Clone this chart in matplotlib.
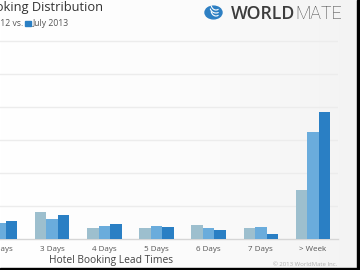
import matplotlib
matplotlib.use("Agg")
import matplotlib.pyplot as plt
import numpy as np
from matplotlib.patches import Rectangle, Circle, Arc
from matplotlib.colors import LinearSegmentedColormap

# ---- data ----
categories = ["2 Days", "3 Days", "4 Days", "5 Days", "6 Days", "7 Days", "> Week"]
series_names = ["July 2011", "July 2012", "July 2013"]
s2011 = [6.0, 8.4, 3.3, 3.3, 4.2, 3.3, 14.9]
s2012 = [5.0, 6.1, 4.1, 4.1, 3.3, 3.7, 32.6]
s2013 = [5.5, 7.3, 4.7, 3.8, 2.7, 1.6, 38.5]
colors = ["#9dbfce", "#6aacdc", "#2a7fc4"]
yticks = [10, 20, 30, 40, 50, 60]

W, H = 360, 270
fig = plt.figure(figsize=(3.6, 2.7), dpi=100)
fig.patch.set_facecolor("white")

def fx(px):
    return px / W

def fy(py):
    return 1 - py / H

# background gradient
bg = fig.add_axes([0, 0, 1, 1], zorder=-10)
grad = np.linspace(0, 1, 256)[None, :]
cm = LinearSegmentedColormap.from_list("bg", ["#ffffff", "#fcfcfc", "#f3f3f3"])
bg.imshow(grad, aspect="auto", cmap=cm, extent=[0, 1, 0, 1])
bg.axis("off")

# main axes
ax_left, ax_right = 0, 338
ax_top, ax_base = 35, 239.3
ax = fig.add_axes([fx(ax_left), fy(ax_base), fx(ax_right - ax_left), (ax_base - ax_top) / H])
ax.set_facecolor("none")

x = np.arange(len(categories))
bw = 0.22
for i, (vals, c) in enumerate(zip([s2011, s2012, s2013], colors)):
    ax.bar(x + (i - 1) * bw, vals, width=bw, color=c, zorder=3, linewidth=0)

ax.set_xlim((ax_left + 7.3) / 53.3, (ax_right + 7.3) / 53.3)
ax.set_ylim(0, (ax_base - ax_top) / 3.3)
ax.set_yticks(yticks)
ax.yaxis.grid(True, color="#ececec", linewidth=1.0, zorder=0)
ax.tick_params(axis="y", length=0, labelleft=False)
ax.set_xticks(x)
ax.set_xticklabels(categories, fontsize=5.8, color="#555555", family="Open Sans")
ax.tick_params(axis="x", length=0, pad=5)
for s in ["top", "right", "left"]:
    ax.spines[s].set_visible(False)
ax.spines["bottom"].set_color("#d6d6d6")
ax.spines["bottom"].set_linewidth(1.0)

# x-axis label
fig.text(fx(111), fy(261), "Hotel Booking Lead Times", ha="center", va="center",
         fontsize=7.4, color="#444444", family="Open Sans")

# title & subtitle
fig.text(fx(103), fy(11.5), "Hotel Booking Distribution", ha="right", va="baseline",
         fontsize=9.3, color="#333333", family="Open Sans")
fig.text(fx(24.5), fy(25.5), "July 2012 vs.", ha="right", va="baseline",
         fontsize=6.2, color="#555555", family="Open Sans")
fig.add_artist(Rectangle((fx(25), fy(26)), fx(5.5), 5.5 / H, color=colors[2],
                         transform=fig.transFigure))
fig.text(fx(32.5), fy(25.5), series_names[2], ha="left", va="baseline",
         fontsize=6.2, color="#555555", family="Open Sans")

# logo
fig.add_artist(Circle((fx(213.5), fy(12.5)), 8.5 / W, color="#2d7fc3",
                      transform=fig.transFigure))
for k, (dy, wd) in enumerate([(-2.5, 10), (0.5, 12), (3.5, 10)]):
    fig.add_artist(Arc((fx(216), fy(12.5 + dy - 6)), fx(wd), 12 / H, theta1=200, theta2=290,
                       color="white", lw=0.8, transform=fig.transFigure))
fig.text(fx(231), fy(19.3), "WORLD", ha="left", va="baseline", fontsize=12.8,
         fontweight="semibold", color="#3d3d3d", family="Open Sans")
fig.text(fx(342), fy(19.3), "MATE", ha="right", va="baseline", fontsize=12.8,
         fontweight="light", color="#3d3d3d", family="Roboto")

# copyright
fig.text(fx(305), fy(264.5), "\u00a9 2013 WorldMate Inc.", ha="center", va="center",
         fontsize=4.3, color="#b0b0b0", family="Open Sans")

# frame edges (right and bottom)
fig.add_artist(Rectangle((fx(357.3), 0), fx(2.7), 1, color="black",
                         transform=fig.transFigure, zorder=20))
fig.add_artist(Rectangle((0, 0), 1, 1.7 / H, color="black",
                         transform=fig.transFigure, zorder=20))

fig.savefig("out.png", dpi=100)
